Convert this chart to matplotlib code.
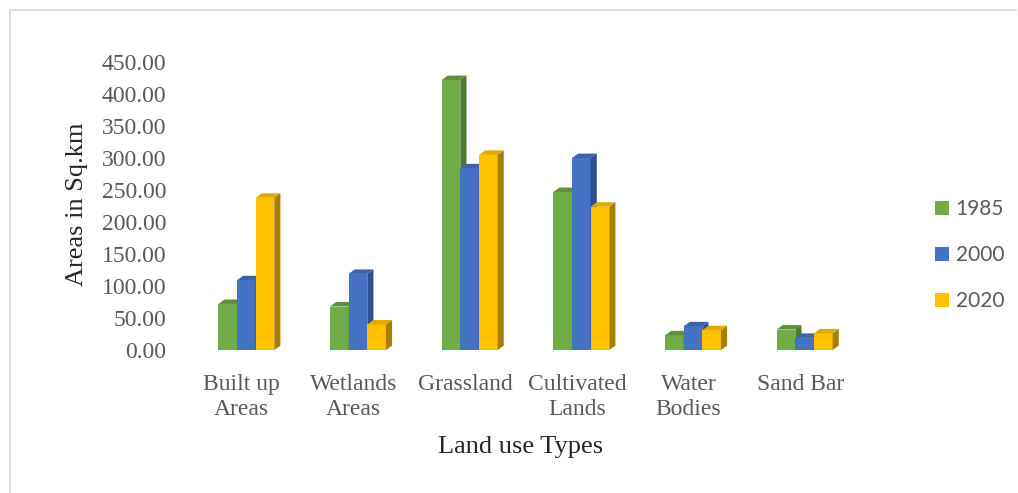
import numpy as np
import matplotlib.pyplot as plt
from matplotlib.lines import Line2D

# Land use area per category (sq. km)
categories = ["Built up\nAreas", "Wetlands\nAreas", "Grassland", "Cultivated\nLands", "Water\nBodies", "Sand Bar"]
years = ["1985", "2000", "2020"]
area_1985 = [72, 68, 422, 247, 23, 32]
area_2000 = [109, 119, 284, 300, 37, 19]
area_2020 = [238, 40, 305, 224, 31, 26]

series = [area_1985, area_2000, area_2020]
front = ["#70AD47", "#4472C4", "#FFC000"]
top = ["#5E923A", "#3A63AC", "#E2AA00"]
side = ["#4B7A2E", "#2D4F8E", "#A87E00"]

fig = plt.figure(figsize=(10.18, 4.93), dpi=100)
ax = fig.add_axes([0.1827, 0.290, 0.6582, 0.584])

x = np.arange(len(categories))
w = 0.167
shift = 0.04
dx, dy = 0.055, 7.0  # depth of the pseudo-3D columns (data units)

handles = []
for k, vals in enumerate(series):
    pos = x + shift + (k - 1) * w
    bars = ax.bar(pos, vals, width=w, color=front[k], label=years[k], zorder=3 + 2 * k)
    handles.append(bars)
    for p, v in zip(pos, vals):
        l, r = p - w / 2, p + w / 2
        ax.fill([l, r, r + dx, l + dx], [v, v, v + dy, v + dy], color=top[k], lw=0, zorder=4 + 2 * k)
        ax.fill([r, r + dx, r + dx, r], [0, dy, v + dy, v], color=side[k], lw=0, zorder=4 + 2 * k)

ax.set_xlim(-0.5, len(categories) - 0.5)
ax.set_ylim(0, 450)
ax.set_yticks(np.arange(0, 451, 50))
ax.yaxis.set_major_formatter(plt.FuncFormatter(lambda v, _: f"{v:.2f}"))
ax.set_xticks(x)
ax.set_xticklabels(categories, linespacing=1.3)
for s in ax.spines.values():
    s.set_visible(False)

serif = "Liberation Serif"
grey = "#595959"
ax.tick_params(axis="both", length=0, labelsize=17, labelcolor=grey)
ax.tick_params(axis="y", pad=14)
ax.tick_params(axis="x", pad=17)
for t in ax.get_xticklabels() + ax.get_yticklabels():
    t.set_fontfamily(serif)

ax.set_ylabel("Areas in Sq.km", fontsize=19, family=serif, color="#262626", va="center")
ax.yaxis.set_label_coords(-0.163, 0.505)
ax.set_xlabel("Land use Types", fontsize=19, family=serif, color="#262626", va="center")
ax.xaxis.set_label_coords(0.5, -0.337)

leg = fig.legend(handles=handles, loc="center left", bbox_to_anchor=(0.91, 0.482),
                 frameon=False, prop={"family": "Lato", "size": 15},
                 handlelength=0.7, handleheight=0.7, handletextpad=0.3,
                 labelspacing=1.25, borderaxespad=0)
for t in leg.get_texts():
    t.set_color(grey)

# thin frame around the chart area
fig.add_artist(Line2D([10 / 1018, 10 / 1018], [0, 1 - 10 / 493], color="#D9D9D9", lw=1.2))
fig.add_artist(Line2D([10 / 1018, 1016 / 1018], [1 - 10 / 493, 1 - 10 / 493], color="#D9D9D9", lw=1.2))

fig.savefig("out.png", dpi=100)
